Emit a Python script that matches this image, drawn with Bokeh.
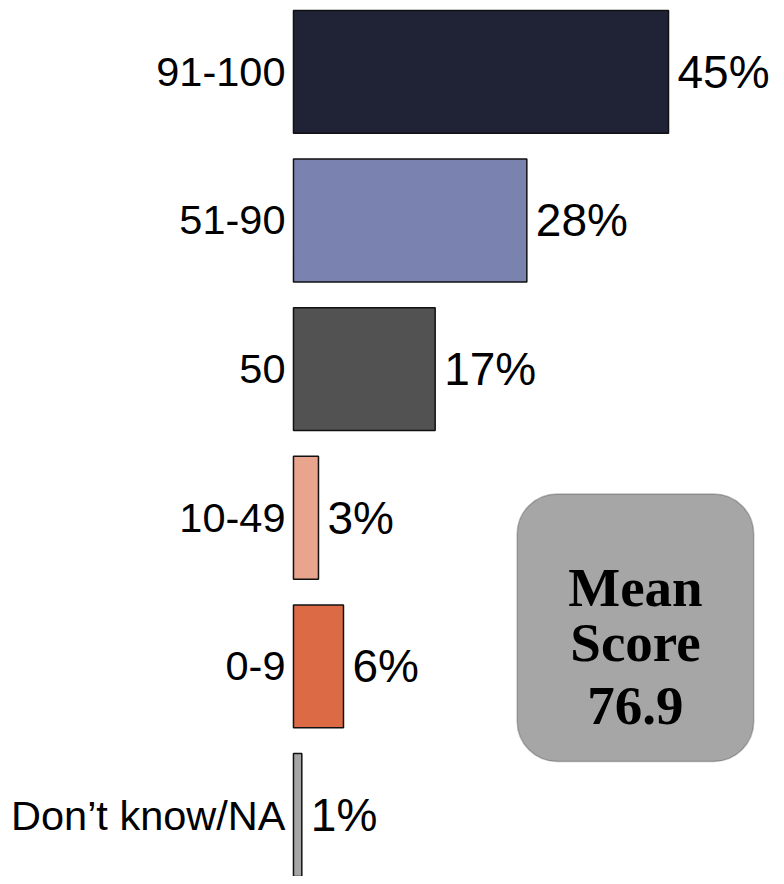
from bokeh.plotting import figure
from bokeh.models import ColumnDataSource, Range1d, BoxAnnotation
from bokeh.core.properties import value
from bokeh.embed import file_html
from bokeh.resources import INLINE

categories = ["91-100", "51-90", "50", "10-49", "0-9", "Don\u2019t know/NA"]
percents = [45, 28, 17, 3, 6, 1]
colors = ["#1f2335", "#7a82b0", "#525252", "#e8a48c", "#dc6a45", "#a6a6a6"]
mean_lines = ["Mean", "Score", "76.9"]

W, H = 776, 876
sx = W / 784.0
sy = H / 884.0
px_per_pct = 8.42 * sx
x0_px = 296 * sx
x_start = -x0_px / px_per_pct
x_end = (W - x0_px) / px_per_pct

pitch = 150.0 * sy
first_center = 72.0 * sy
y_top = -first_center / pitch
y_bottom = (H - first_center) / pitch

p = figure(width=W, height=H, output_backend="svg", toolbar_location=None,
           x_range=Range1d(x_start, x_end), y_range=Range1d(y_bottom, y_top),
           min_border=0, min_border_left=0, min_border_right=0,
           min_border_top=0, min_border_bottom=0)
p.axis.visible = False
p.grid.visible = False
p.outline_line_color = None
p.background_fill_color = "white"
p.border_fill_color = "white"

ypos = list(range(len(categories)))
src = ColumnDataSource(dict(
    y=ypos, v=percents, c=colors, cat=categories,
    lab=[f"{v}%" for v in percents], zero=[0] * len(percents)))

p.hbar(y="y", left=0, right="v", height=124 / 150.0, fill_color="c",
       line_color="#111111", line_width=1.5, source=src)

p.text(x="zero", y="y", text="cat", x_offset=-8, text_align="right",
       text_baseline="middle", text_font=value("Liberation Sans"),
       text_font_size="41.5px", text_color="black", source=src)
p.text(x="v", y="y", text="lab", x_offset=9, text_align="left",
       text_baseline="middle", text_font=value("Liberation Sans"),
       text_font_size="46px", text_color="black", source=src)

# Mean score box (positions given in reference pixels)
def xpx(s):
    return x_start + s * sx / px_per_pct

def ypx(s):
    return (s * sy - first_center) / pitch

box = BoxAnnotation(left=xpx(522), right=xpx(761), top=ypx(498), bottom=ypx(768),
                    fill_color="#a6a6a6", fill_alpha=1.0, line_color="#333333",
                    line_width=1.5, border_radius=40, level="underlay")
p.add_layout(box)

mean_src = ColumnDataSource(dict(
    x=[xpx(641.5)] * 3, y=[ypx(592), ypx(648), ypx(712)], t=mean_lines))
p.text(x="x", y="y", text="t", text_align="center", text_baseline="alphabetic",
       text_font=value("Liberation Serif"), text_font_style="bold",
       text_font_size="55px", text_color="black", source=mean_src)

open("out.html", "w").write(file_html(p, INLINE))
